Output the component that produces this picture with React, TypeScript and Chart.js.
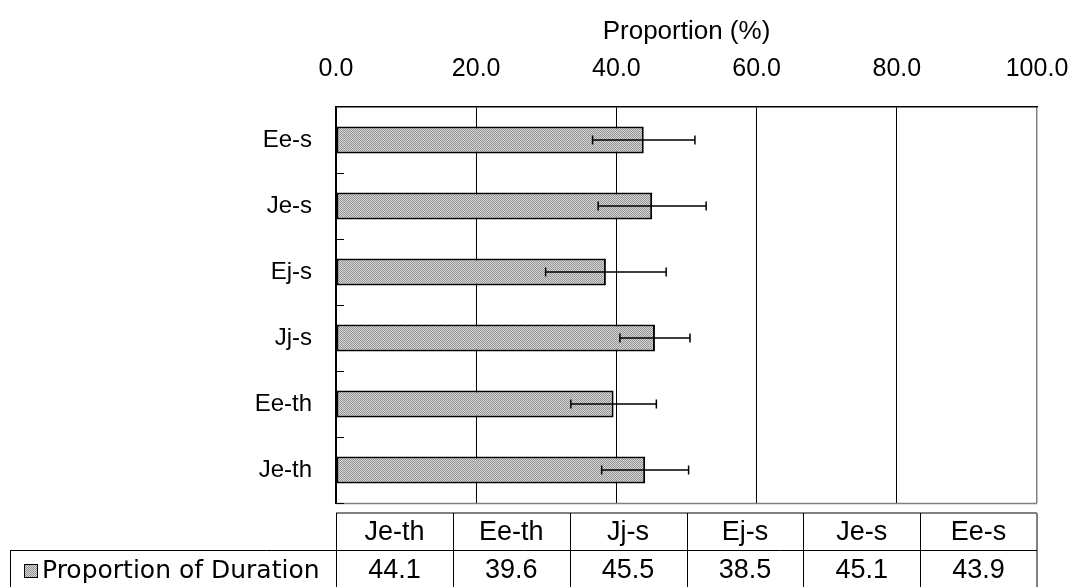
import React, { useEffect, useRef } from 'react';
import { Chart, registerables } from 'chart.js';

Chart.register(...registerables);

// Categories in data-table order (bottom-to-top on the chart)
const categories = ['Je-th', 'Ee-th', 'Jj-s', 'Ej-s', 'Je-s', 'Ee-s'];
const durationValues = [44.1, 39.6, 45.5, 38.5, 45.1, 43.9];
const errorValues = [6.2, 6.1, 5.0, 8.6, 7.7, 7.3];
const xTickValues = [0, 20, 40, 60, 80, 100];
const seriesName = 'Proportion of Duration';
const axisTitle = 'Proportion (%)';

const REGULAR = '"Liberation Sans", Arial, sans-serif';
const WIDE = '"DejaVu Sans", "Liberation Sans", sans-serif';

function makeDotPattern(ctx: CanvasRenderingContext2D): CanvasPattern | string {
  const pc = document.createElement('canvas');
  pc.width = 2;
  pc.height = 2;
  const p = pc.getContext('2d');
  if (!p) return '#bbbbbb';
  p.fillStyle = '#d6d6d6';
  p.fillRect(0, 0, 2, 2);
  p.fillStyle = '#949494';
  p.fillRect(0, 0, 1, 1);
  p.fillRect(1, 1, 1, 1);
  return ctx.createPattern(pc, 'repeat') || '#bbbbbb';
}

const errorBarPlugin = {
  id: 'errorBars',
  afterDatasetsDraw(chart: any) {
    const { ctx } = chart;
    const xs = chart.scales.x;
    const meta = chart.getDatasetMeta(0);
    ctx.save();
    ctx.strokeStyle = '#000';
    ctx.lineWidth = 1.5;
    meta.data.forEach((bar: any, i: number) => {
      const v = durationValues[i];
      const e = errorValues[i];
      const x1 = xs.getPixelForValue(v - e);
      const x2 = xs.getPixelForValue(v + e);
      const y = bar.y;
      ctx.beginPath();
      ctx.moveTo(x1, y);
      ctx.lineTo(x2, y);
      ctx.moveTo(x1, y - 4.5);
      ctx.lineTo(x1, y + 4.5);
      ctx.moveTo(x2, y - 4.5);
      ctx.lineTo(x2, y + 4.5);
      ctx.stroke();
    });
    ctx.restore();
  },
};

const frameAndTablePlugin = {
  id: 'frameAndTable',
  afterDraw(chart: any) {
    const { ctx, chartArea } = chart;
    const { left, right, bottom } = chartArea;
    const ys = chart.scales.y;
    const n = categories.length;

    ctx.save();
    // bottom frame edge
    ctx.strokeStyle = '#808080';
    ctx.lineWidth = 1.5;
    ctx.beginPath();
    ctx.moveTo(left, bottom + 0.5);
    ctx.lineTo(right, bottom + 0.5);
    ctx.stroke();

    // inside tick marks at category boundaries
    ctx.strokeStyle = '#000';
    ctx.lineWidth = 1;
    ctx.beginPath();
    for (let i = 0; i < n; i++) {
      const yb = i === 0
        ? bottom
        : (ys.getPixelForValue(i - 1) + ys.getPixelForValue(i)) / 2;
      const yy = Math.round(yb) + 0.5;
      ctx.moveTo(left, yy);
      ctx.lineTo(left + 8, yy);
    }
    ctx.stroke();

    // data table
    const colW = (right - left) / n;
    const top = bottom + 10;
    const rowH = 37;
    const mid = top + rowH;
    const end = mid + rowH + 6;
    const legendLeft = 10;

    ctx.strokeStyle = '#808080';
    ctx.lineWidth = 2;
    ctx.beginPath();
    ctx.moveTo(left, top);
    ctx.lineTo(right, top);
    ctx.moveTo(right, top);
    ctx.lineTo(right, end);
    ctx.stroke();

    ctx.strokeStyle = '#000';
    ctx.lineWidth = 1;
    ctx.beginPath();
    ctx.moveTo(legendLeft, mid + 0.5);
    ctx.lineTo(right, mid + 0.5);
    for (let k = 0; k < n; k++) {
      const x = Math.round(left + k * colW) + 0.5;
      ctx.moveTo(x, top);
      ctx.lineTo(x, end);
    }
    ctx.moveTo(legendLeft + 0.5, mid);
    ctx.lineTo(legendLeft + 0.5, end);
    ctx.stroke();

    ctx.fillStyle = '#000';
    ctx.textAlign = 'center';
    ctx.textBaseline = 'middle';
    ctx.font = `27px ${REGULAR}`;
    categories.forEach((c, i) => {
      ctx.fillText(c, left + (i + 0.5) * colW, top + rowH / 2 + 1);
    });
    ctx.font = `27px ${REGULAR}`;
    durationValues.forEach((v, i) => {
      ctx.fillText(v.toFixed(1), left + (i + 0.5) * colW, mid + rowH / 2 + 2);
    });

    // legend key
    const sw = 13;
    const sy = mid + rowH / 2 + 2 - sw / 2;
    ctx.fillStyle = makeDotPattern(ctx);
    ctx.fillRect(legendLeft + 14, sy, sw, sw);
    ctx.strokeStyle = '#000';
    ctx.lineWidth = 1;
    ctx.strokeRect(legendLeft + 14.5, sy + 0.5, sw, sw);
    ctx.fillStyle = '#000';
    ctx.textAlign = 'left';
    ctx.font = `25px ${WIDE}`;
    ctx.fillText(seriesName, legendLeft + 32, mid + rowH / 2 + 3);
    ctx.restore();
  },
};

export default function App() {
  const canvasRef = useRef<HTMLCanvasElement | null>(null);

  useEffect(() => {
    const canvas = canvasRef.current;
    if (!canvas) return;
    const ctx = canvas.getContext('2d');
    if (!ctx) return;
    const pattern = makeDotPattern(ctx);

    const chart = new Chart(canvas, {
      type: 'bar',
      data: {
        labels: categories,
        datasets: [
          {
            label: seriesName,
            data: durationValues,
            backgroundColor: pattern as any,
            borderColor: '#000',
            borderWidth: 2,
            borderSkipped: false,
            barPercentage: 0.41,
            categoryPercentage: 1,
          },
        ],
      },
      options: {
        indexAxis: 'y',
        animation: false,
        responsive: false,
        maintainAspectRatio: false,
        layout: { padding: { top: 0, left: 0, right: 32, bottom: 84 } },
        plugins: {
          legend: { display: false },
          tooltip: { enabled: false },
        },
        scales: {
          x: {
            position: 'top',
            min: 0,
            max: 100,
            afterBuildTicks: (s: any) => {
              s.ticks = xTickValues.map((v) => ({ value: v }));
            },
            ticks: {
              callback: (v: any) => Number(v).toFixed(1),
              font: { family: REGULAR, size: 25 },
              color: '#000',
              padding: 23,
              maxRotation: 0,
            },
            grid: {
              color: (c: any) => (c.tick && c.tick.value === 100 ? '#808080' : '#000'),
              lineWidth: (c: any) => (c.tick && c.tick.value === 100 ? 1.5 : 1),
              drawTicks: false,
            },
            border: { display: true, color: '#000', width: 1.5 },
            title: {
              display: true,
              text: axisTitle,
              font: { family: REGULAR, size: 26 },
              color: '#000',
              padding: { top: 16, bottom: 0 },
            },
            afterFit: (s: any) => {
              s.height = 107;
              s.paddingLeft = 0;
              s.paddingRight = 0;
            },
          },
          y: {
            reverse: true,
            offset: true,
            grid: { display: true, drawOnChartArea: false, drawTicks: false },
            border: { display: true, color: '#000', width: 1.5 },
            ticks: {
              font: { family: REGULAR, size: 24 },
              color: '#000',
              padding: 24,
            },
            afterFit: (s: any) => {
              s.width = 336;
              s.paddingTop = 0;
              s.paddingBottom = 0;
            },
          },
        },
      },
      plugins: [errorBarPlugin, frameAndTablePlugin],
    });

    return () => {
      chart.destroy();
    };
  }, []);

  return (
    <div style={{ position: 'absolute', left: 0, top: 0, width: 1069, height: 587, background: '#fff' }}>
      <canvas ref={canvasRef} width={1069} height={587} style={{ display: 'block' }} />
    </div>
  );
}
